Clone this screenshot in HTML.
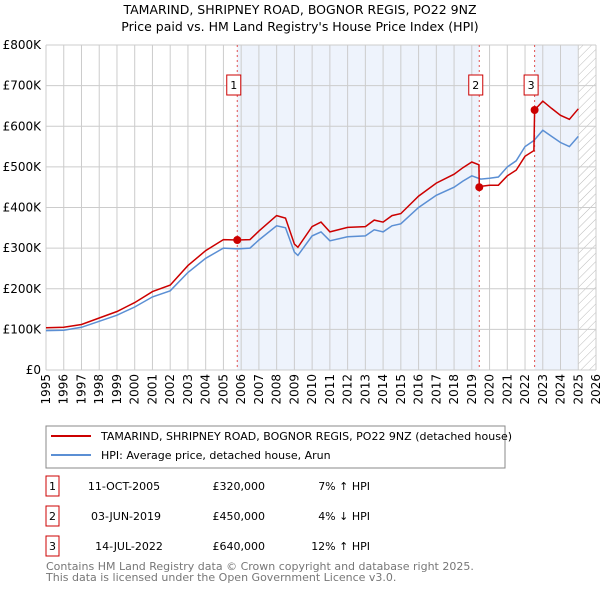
<!DOCTYPE html>
<html><head><meta charset="utf-8"><style>
body{margin:0;background:#fff;font-family:"Liberation Sans","DejaVu Sans",sans-serif;}
svg text{font-family:"DejaVu Sans","Liberation Sans",sans-serif;}
</style></head><body>
<svg width="600" height="590" viewBox="0 0 600 590" xmlns="http://www.w3.org/2000/svg">
<defs><pattern id="hatch" width="6" height="6" patternUnits="userSpaceOnUse" patternTransform="rotate(45)"><line x1="0" y1="0" x2="0" y2="6" stroke="#bbb" stroke-width="1"/></pattern></defs>
<text x="300" y="14" font-size="12.5" text-anchor="middle">TAMARIND, SHRIPNEY ROAD, BOGNOR REGIS, PO22 9NZ</text>
<text x="300" y="31" font-size="12.5" text-anchor="middle">Price paid vs. HM Land Registry's House Price Index (HPI)</text>
<g id="plot"></g>
<g>
<rect x="46" y="426" width="459" height="42" fill="#fff" stroke="#888"/>
<line x1="51" y1="436" x2="91" y2="436" stroke="#cc0000" stroke-width="2"/>
<text x="101" y="440" font-size="11">TAMARIND, SHRIPNEY ROAD, BOGNOR REGIS, PO22 9NZ (detached house)</text>
<line x1="51" y1="455" x2="91" y2="455" stroke="#5b8fd4" stroke-width="2"/>
<text x="101" y="459" font-size="11">HPI: Average price, detached house, Arun</text>
</g>
<g font-size="11">
<rect x="46" y="476" width="13" height="20" fill="#fff" stroke="#cc0000"/><text x="52.5" y="490" text-anchor="middle">1</text>
<text x="124" y="490" text-anchor="middle">11-OCT-2005</text><text x="265" y="490" text-anchor="end">£320,000</text><text x="370" y="490" text-anchor="end">7% ↑ HPI</text>
<rect x="46" y="506" width="13" height="20" fill="#fff" stroke="#cc0000"/><text x="52.5" y="520" text-anchor="middle">2</text>
<text x="126" y="520" text-anchor="middle">03-JUN-2019</text><text x="265" y="520" text-anchor="end">£450,000</text><text x="370" y="520" text-anchor="end">4% ↓ HPI</text>
<rect x="46" y="536" width="13" height="20" fill="#fff" stroke="#cc0000"/><text x="52.5" y="550" text-anchor="middle">3</text>
<text x="129" y="550" text-anchor="middle">14-JUL-2022</text><text x="265" y="550" text-anchor="end">£640,000</text><text x="370" y="550" text-anchor="end">12% ↑ HPI</text>
</g>
<text x="46" y="570" font-size="11" fill="#777">Contains HM Land Registry data © Crown copyright and database right 2025.</text>
<text x="46" y="581" font-size="11" fill="#777">This data is licensed under the Open Government Licence v3.0.</text>
</svg>
<script>
const hpiYears=[1995,1996,1997,1998,1999,2000,2001,2002,2003,2004,2005,2005.8,2006.5,2007,2008,2008.5,2009,2009.2,2010,2010.5,2011,2012,2013,2013.5,2014,2014.5,2015,2016,2017,2018,2018.5,2019,2019.5,2020,2020.5,2021,2021.5,2022,2022.5,2023,2023.5,2024,2024.5,2025];
const hpiValues=[97,98,105,120,135,155,180,195,240,275,300,298,300,320,355,350,290,282,330,340,318,328,330,345,340,355,360,400,430,450,465,478,470,472,475,500,515,550,565,590,575,560,550,575];
const priceYears=[1995,1996,1997,1998,1999,2000,2001,2002,2003,2004,2005,2005.78,2006.5,2007,2008,2008.5,2009,2009.2,2010,2010.5,2011,2012,2013,2013.5,2014,2014.5,2015,2016,2017,2018,2018.5,2019,2019.4,2019.42,2019.5,2020,2020.5,2021,2021.5,2022,2022.5,2022.54,2023,2023.5,2024,2024.5,2025];
const priceValues=[104,105,112,128,144,166,193,209,257,294,321,320,321,342,380,374,310,302,353,364,340,351,353,369,364,380,385,428,460,482,498,512,505,450,452,455,455,478,492,526,540,640,662,644,627,617,643];
const saleYears=[2005.78,2019.42,2022.54];
const saleValues=[320,450,640];
const saleLabels=["1","2","3"];
const yTicks=[0,100,200,300,400,500,600,700,800];
const yTickLabels=["£0","£100K","£200K","£300K","£400K","£500K","£600K","£700K","£800K"];
const xTicks=[1995,1996,1997,1998,1999,2000,2001,2002,2003,2004,2005,2006,2007,2008,2009,2010,2011,2012,2013,2014,2015,2016,2017,2018,2019,2020,2021,2022,2023,2024,2025,2026];

const X0=46,X1=596,Y0=370,Y1=45;
const xs=y=>X0+(y-1995)/(2026-1995)*(X1-X0);
const ys=v=>Y0-v/800*(Y0-Y1);
const NS="http://www.w3.org/2000/svg";
const g=document.getElementById('plot');
function mk(t,a){const e=document.createElementNS(NS,t);for(const k in a)e.setAttribute(k,a[k]);g.appendChild(e);return e;}

let e=mk('rect',{x:xs(saleYears[0]),y:Y1,width:xs(saleYears[1])-xs(saleYears[0]),height:Y0-Y1,fill:'#eef3fc'});


e=mk('rect',{x:xs(saleYears[2]),y:Y1,width:xs(2025)-xs(saleYears[2]),height:Y0-Y1,fill:'#eef3fc'});


e=mk('rect',{x:xs(2025),y:Y1,width:X1-xs(2025),height:Y0-Y1,fill:'url(#hatch)'});



xTicks.forEach(t=>{
 e=mk('line',{x1:xs(t),x2:xs(t),y1:Y1,y2:Y0,stroke:'#ccc','stroke-width':1});
 
 
 const tx=xs(t)+4, ty=374;
 e=mk('text',{x:tx,y:ty,'font-size':12,'text-anchor':'end',transform:`rotate(-90 ${tx} ${ty})`});e.textContent=t;
 
 
});
yTicks.forEach((t,i)=>{
 e=mk('line',{x1:X0,x2:X1,y1:ys(t),y2:ys(t),stroke:'#ccc','stroke-width':1});
 
 
 e=mk('text',{x:X0-5,y:ys(t)+4,'font-size':12,'text-anchor':'end'});e.textContent=yTickLabels[i];
 
 
});
saleYears.forEach((s,i)=>{
 e=mk('line',{x1:xs(s),x2:xs(s),y1:Y1,y2:Y0,stroke:'#e05050','stroke-width':1,'stroke-dasharray':'2,3'});
 
 
});
const path=(xa,va)=>xa.map((x,i)=>(i?'L':'M')+xs(x).toFixed(1)+','+ys(va[i]).toFixed(1)).join('');
e=mk('path',{d:path(hpiYears,hpiValues),fill:'none',stroke:'#5b8fd4','stroke-width':1.5});


e=mk('path',{d:path(priceYears,priceValues),fill:'none',stroke:'#cc0000','stroke-width':1.5});


saleYears.forEach((s,i)=>{
 e=mk('circle',{cx:xs(s),cy:ys(saleValues[i]),r:4,fill:'#cc0000'});
 
 
 e=mk('rect',{x:xs(s)-10.5,y:75,width:14,height:20,fill:'#fff',stroke:'#cc0000'});
 
 
 e=mk('text',{x:xs(s)-3.5,y:89,'font-size':11,'text-anchor':'middle'});e.textContent=saleLabels[i];
 
 
});
</script>
</body></html>
